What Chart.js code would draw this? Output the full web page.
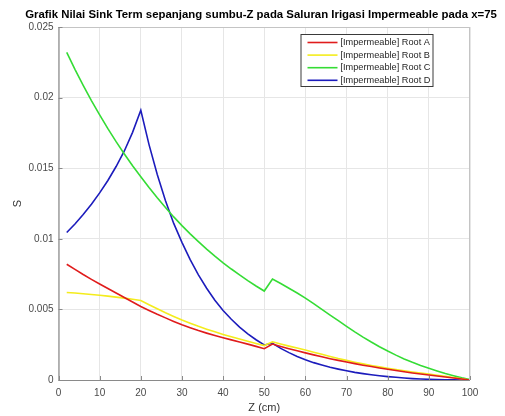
<!DOCTYPE html>
<html>
<head>
<meta charset="utf-8">
<script src="https://cdn.jsdelivr.net/npm/chart.js@4/dist/chart.umd.min.js"></script>
<style>
  html, body { margin: 0; padding: 0; background: #ffffff; }
  canvas { display: block; }
</style>
</head>
<body>
<canvas id="chart" width="505" height="416"></canvas>
<script>
// Depth positions along the Z axis (cm)
const zValues = [2, 4, 6, 8, 10, 12, 14, 16, 18, 20, 22, 24, 26, 28, 30, 32, 34, 36, 38, 40, 42, 44, 46, 48, 50,
                 52, 54, 56, 58, 60, 62, 64, 66, 68, 70, 72, 74, 76, 78, 80, 82, 84, 86, 88, 90, 92, 94, 96, 98, 100];

// Sink term S for each root profile
const rootA = [0.00820, 0.00783, 0.00747, 0.00713, 0.00680, 0.00648, 0.00616, 0.00584, 0.00552, 0.00520,
               0.00492, 0.00465, 0.00440, 0.00415, 0.00391, 0.00370, 0.00350, 0.00332, 0.00315, 0.00299,
               0.00284, 0.00269, 0.00254, 0.00238, 0.00222,
               0.00255, 0.00238, 0.00222, 0.00207, 0.00192, 0.00178, 0.00164, 0.00151, 0.00139, 0.00127,
               0.00116, 0.00105, 0.00095, 0.00085, 0.00076, 0.00067, 0.00058, 0.00050, 0.00042, 0.00035,
               0.00028, 0.00021, 0.00014, 0.00007, 0];
const rootB = [0.00620, 0.00616, 0.00611, 0.00606, 0.00600, 0.00594, 0.00587, 0.00580, 0.00572, 0.00563,
               0.00533, 0.00504, 0.00476, 0.00450, 0.00425, 0.00402, 0.00380, 0.00360, 0.00341, 0.00323,
               0.00306, 0.00290, 0.00274, 0.00259, 0.00244,
               0.00271, 0.00255, 0.00240, 0.00226, 0.00212, 0.00197, 0.00182, 0.00167, 0.00152, 0.00139,
               0.00126, 0.00114, 0.00103, 0.00093, 0.00083, 0.00074, 0.00065, 0.00057, 0.00049, 0.00042,
               0.00034, 0.00026, 0.00018, 0.00009, 0];
const rootC = [0.02320, 0.02200, 0.02087, 0.01979, 0.01877, 0.01780, 0.01688, 0.01601, 0.01518, 0.01440,
               0.01363, 0.01290, 0.01221, 0.01155, 0.01093, 0.01035, 0.00980, 0.00927, 0.00877, 0.00830,
               0.00786, 0.00744, 0.00704, 0.00666, 0.00630,
               0.00715, 0.00683, 0.00650, 0.00616, 0.00580, 0.00541, 0.00500, 0.00460, 0.00420, 0.00380,
               0.00341, 0.00304, 0.00269, 0.00236, 0.00205, 0.00176, 0.00149, 0.00125, 0.00103, 0.00083,
               0.00064, 0.00046, 0.00030, 0.00015, 0.00003];
const rootD = [0.01045, 0.01105, 0.01172, 0.01245, 0.01325, 0.01413, 0.01512, 0.01622, 0.01754, 0.01910,
               0.01667, 0.01455, 0.01270, 0.01109, 0.00975, 0.00852, 0.00745, 0.00650, 0.00565, 0.00492,
               0.00430, 0.00375, 0.00327, 0.00285, 0.00248,
               0.00260, 0.00224, 0.00194, 0.00166, 0.00143, 0.00123, 0.00106, 0.00090, 0.00077, 0.00065,
               0.00054, 0.00045, 0.00037, 0.00030, 0.00024, 0.00019, 0.00014, 0.00010, 0.00007, 0.00005,
               0.00003, 0.00002, 0.00001, 0, 0];

const seriesNames = ['[Impermeable] Root A', '[Impermeable] Root B', '[Impermeable] Root C', '[Impermeable] Root D'];
const seriesColors = ['#e01c1c', '#f4ec1c', '#35dc35', '#1c1cbc'];

const chartTitle = 'Grafik Nilai Sink Term sepanjang sumbu-Z pada Saluran Irigasi Impermeable pada x=75';

// Axis tick labels
const xTickLabels = ['0', '10', '20', '30', '40', '50', '60', '70', '80', '90', '100'];
const yTickLabels = ['0', '0.005', '0.01', '0.015', '0.02', '0.025'];

const FONT = "'Liberation Sans', Arial, Helvetica, sans-serif";
const AXIS_COLOR = '#8a8a8a';

function toPoints(values) {
  return zValues.map((z, i) => ({ x: z, y: values[i] }));
}

const datasets = [rootA, rootB, rootC, rootD].map((vals, i) => ({
  label: seriesNames[i],
  data: toPoints(vals),
  borderColor: seriesColors[i],
  backgroundColor: seriesColors[i],
  borderWidth: 1.6,
  pointRadius: 0,
  tension: 0,
  fill: false
}));

// Bold title centred over the figure
const titlePlugin = {
  id: 'figTitle',
  afterDraw(chart) {
    const { ctx } = chart;
    ctx.save();
    ctx.font = 'bold 11.4px ' + FONT;
    ctx.fillStyle = '#000000';
    ctx.textAlign = 'center';
    ctx.textBaseline = 'middle';
    ctx.fillText(chartTitle, chart.width / 2 + 8.5, 15);
    ctx.restore();
  }
};

// Axes frame with inward tick marks, drawn over the plot
const framePlugin = {
  id: 'frame',
  afterDatasetsDraw(chart) {
    const { ctx, chartArea: a, scales } = chart;
    ctx.save();
    ctx.lineWidth = 1;
    ctx.strokeStyle = '#c4c4c4';
    ctx.beginPath();
    ctx.moveTo(a.left, a.top + 0.5);
    ctx.lineTo(a.right, a.top + 0.5);
    ctx.moveTo(a.right - 0.5, a.top);
    ctx.lineTo(a.right - 0.5, a.bottom);
    ctx.stroke();

    ctx.strokeStyle = AXIS_COLOR;
    ctx.lineWidth = 1.2;
    ctx.beginPath();
    ctx.moveTo(a.left + 0.5, a.top);
    ctx.lineTo(a.left + 0.5, a.bottom + 0.5);
    ctx.lineTo(a.right, a.bottom + 0.5);
    ctx.stroke();

    ctx.lineWidth = 1;
    ctx.beginPath();
    scales.x.ticks.forEach(t => {
      const px = Math.round(scales.x.getPixelForValue(t.value)) + 0.5;
      ctx.moveTo(px, a.bottom);
      ctx.lineTo(px, a.bottom - 4);
    });
    scales.y.ticks.forEach(t => {
      const py = Math.round(scales.y.getPixelForValue(t.value)) + 0.5;
      ctx.moveTo(a.left, py);
      ctx.lineTo(a.left + 4, py);
    });
    ctx.stroke();
    ctx.restore();
  }
};

// Boxed legend in the upper right of the plot
const legendBoxPlugin = {
  id: 'legendBox',
  afterDraw(chart) {
    const { ctx, chartArea: a } = chart;
    const boxX = a.left + 242, boxY = a.top + 7, boxW = 133, boxH = 53;
    ctx.save();
    ctx.fillStyle = '#ffffff';
    ctx.fillRect(boxX, boxY, boxW, boxH);
    ctx.strokeStyle = '#3a3a3a';
    ctx.lineWidth = 1;
    ctx.strokeRect(boxX + 0.5, boxY + 0.5, boxW - 1, boxH - 1);
    ctx.font = '9.2px ' + FONT;
    ctx.textBaseline = 'middle';
    ctx.textAlign = 'left';
    chart.data.datasets.forEach((ds, i) => {
      const y = boxY + 8.5 + i * 12.6;
      ctx.strokeStyle = ds.borderColor;
      ctx.lineWidth = 1.6;
      ctx.beginPath();
      ctx.moveTo(boxX + 7, y);
      ctx.lineTo(boxX + 37, y);
      ctx.stroke();
      ctx.fillStyle = '#262626';
      ctx.fillText(ds.label, boxX + 40, y);
    });
    ctx.restore();
  }
};

new Chart(document.getElementById('chart'), {
  type: 'line',
  data: { datasets },
  options: {
    responsive: false,
    animation: false,
    devicePixelRatio: 1,
    layout: { padding: { left: 0, right: 35, top: 27, bottom: 0 } },
    plugins: {
      legend: { display: false },
      tooltip: { enabled: false },
      title: { display: false }
    },
    scales: {
      x: {
        type: 'linear',
        min: 0,
        max: 100,
        afterFit(scale) { scale.height = 36; },
        ticks: {
          stepSize: 10,
          padding: 7,
          color: '#4a4a4a',
          font: { family: FONT, size: 10 },
          maxRotation: 0,
          callback: (value, index) => xTickLabels[index]
        },
        grid: { color: '#e6e6e6', lineWidth: 1, drawTicks: false },
        border: { display: false },
        title: {
          display: true,
          text: 'Z (cm)',
          color: '#333333',
          font: { family: FONT, size: 11 },
          padding: { top: 0, bottom: 1.4 }
        }
      },
      y: {
        type: 'linear',
        min: 0,
        max: 0.025,
        afterFit(scale) { scale.width = 58.5; },
        ticks: {
          stepSize: 0.005,
          padding: 5,
          color: '#4a4a4a',
          font: { family: FONT, size: 10 },
          callback: (value, index) => yTickLabels[index]
        },
        grid: { color: '#e6e6e6', lineWidth: 1, drawTicks: false },
        border: { display: false },
        title: {
          display: true,
          text: 'S',
          color: '#333333',
          font: { family: FONT, size: 11 },
          padding: { top: 11.4, bottom: 0 }
        }
      }
    }
  },
  plugins: [framePlugin, legendBoxPlugin, titlePlugin]
});
</script>
</body>
</html>
